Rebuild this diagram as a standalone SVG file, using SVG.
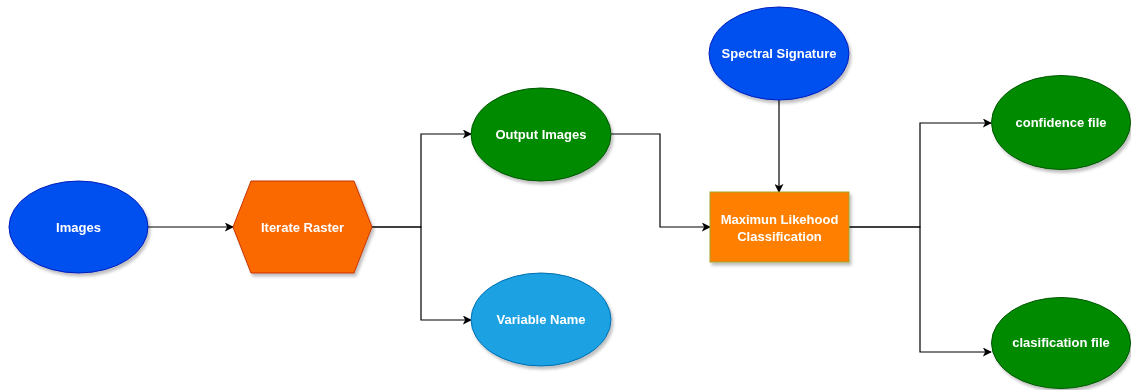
<svg xmlns="http://www.w3.org/2000/svg" width="1131" height="390" viewBox="0 0 1131 390">
<defs>
<filter id="sh" x="-20%" y="-20%" width="150%" height="150%">
<feDropShadow dx="2" dy="3" stdDeviation="1.5" flood-color="#000" flood-opacity="0.25"/>
</filter>
<marker id="ah" viewBox="0 0 10 10" refX="9" refY="5" markerWidth="9" markerHeight="9" markerUnits="userSpaceOnUse" orient="auto">
<path d="M0,0 L10,5 L0,10 L2.5,5 Z" fill="#000"/>
</marker>
</defs>
<style>
text{font-family:"Liberation Sans",Arial,sans-serif;font-size:13px;font-weight:bold;fill:#fff;text-anchor:middle;dominant-baseline:central}
.c{fill:none;stroke:#000;stroke-width:1.2;marker-end:url(#ah)}
.n{filter:url(#sh)}
</style>
<rect width="1131" height="390" fill="#fff"/>
<g id="connectors">
<path class="c" d="M148,227 H233"/>
<path class="c" d="M372,227 H421 V134 H471"/>
<path class="c" d="M372,227 H421 V320 H471"/>
<path class="c" d="M611,134 H660 V227 H710"/>
<path class="c" d="M779,100 V192"/>
<path class="c" d="M849,227 H920 V123 H991"/>
<path class="c" d="M849,227 H920 V352 H991"/>
</g>
<g id="images" class="n">
<ellipse cx="78.5" cy="227" rx="69.5" ry="46" fill="#0050EF" stroke="#001DBC"/>
<text x="78.5" y="227">Images</text>
</g>
<g id="iterate-raster" class="n">
<polygon points="233,227 251,181 354,181 372,227 354,273 251,273" fill="#FA6800" stroke="#C73500"/>
<text x="302.5" y="227">Iterate Raster</text>
</g>
<g id="output-images" class="n">
<ellipse cx="541" cy="134.5" rx="70" ry="46.5" fill="#008A00" stroke="#005700"/>
<text x="541" y="134.5">Output Images</text>
</g>
<g id="variable-name" class="n">
<ellipse cx="541" cy="319.5" rx="70" ry="46.5" fill="#1BA1E2" stroke="#006EAF"/>
<text x="541" y="319.5">Variable Name</text>
</g>
<g id="spectral-signature" class="n">
<ellipse cx="779" cy="53.5" rx="70" ry="46.5" fill="#0050EF" stroke="#001DBC"/>
<text x="779" y="53.5">Spectral Signature</text>
</g>
<g id="mlc" class="n">
<rect x="710" y="192" width="139" height="70" fill="#FF8000" stroke="#A3A32A"/>
<text x="779.5" y="219">Maximun Likehood</text>
<text x="779.5" y="236">Classification</text>
</g>
<g id="confidence-file" class="n">
<ellipse cx="1061" cy="122.5" rx="69.5" ry="47" fill="#008A00" stroke="#005700"/>
<text x="1061" y="122.5">confidence file</text>
</g>
<g id="clasification-file" class="n">
<ellipse cx="1061" cy="343" rx="69.5" ry="45.5" fill="#008A00" stroke="#005700"/>
<text x="1061" y="342">clasification file</text>
</g>
</svg>
